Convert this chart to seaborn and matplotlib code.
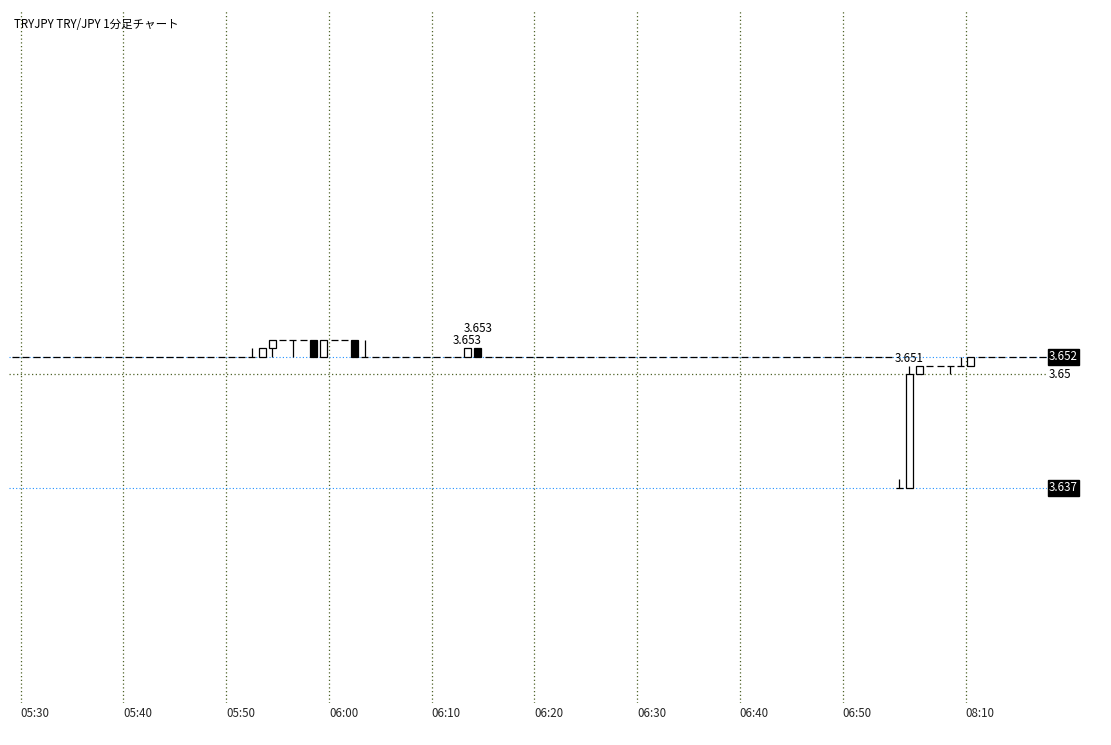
import numpy as np
import pandas as pd
import seaborn as sns
from matplotlib import pyplot as plt

# minute bars: 05:29-06:54 then 08:03-08:17 (no trades in between)
times = list(pd.date_range('05:29', '06:54', freq='1min').strftime('%H:%M')) + \
    list(pd.date_range('08:03', '08:17', freq='1min').strftime('%H:%M'))

opens = [
    3.652, 3.652, 3.652, 3.652, 3.652, 3.652, 3.652, 3.652, 3.652, 3.652,
    3.652, 3.652, 3.652, 3.652, 3.652, 3.652, 3.652, 3.652, 3.652, 3.652,
    3.652, 3.652, 3.652, 3.652, 3.652, 3.653, 3.654, 3.654, 3.654, 3.654,
    3.652, 3.654, 3.654, 3.654, 3.652, 3.652, 3.652, 3.652, 3.652, 3.652,
    3.652, 3.652, 3.652, 3.652, 3.652, 3.653, 3.652, 3.652, 3.652, 3.652,
    3.652, 3.652, 3.652, 3.652, 3.652, 3.652, 3.652, 3.652, 3.652, 3.652,
    3.652, 3.652, 3.652, 3.652, 3.652, 3.652, 3.652, 3.652, 3.652, 3.652,
    3.652, 3.652, 3.652, 3.652, 3.652, 3.652, 3.652, 3.652, 3.652, 3.652,
    3.652, 3.652, 3.652, 3.652, 3.652, 3.652, 3.637, 3.637, 3.650, 3.651,
    3.651, 3.651, 3.651, 3.651, 3.652, 3.652, 3.652, 3.652, 3.652, 3.652,
    3.652]
highs = [
    3.652, 3.652, 3.652, 3.652, 3.652, 3.652, 3.652, 3.652, 3.652, 3.652,
    3.652, 3.652, 3.652, 3.652, 3.652, 3.652, 3.652, 3.652, 3.652, 3.652,
    3.652, 3.652, 3.652, 3.653, 3.653, 3.654, 3.654, 3.654, 3.654, 3.654,
    3.654, 3.654, 3.654, 3.654, 3.654, 3.652, 3.652, 3.652, 3.652, 3.652,
    3.652, 3.652, 3.652, 3.652, 3.653, 3.653, 3.652, 3.652, 3.652, 3.652,
    3.652, 3.652, 3.652, 3.652, 3.652, 3.652, 3.652, 3.652, 3.652, 3.652,
    3.652, 3.652, 3.652, 3.652, 3.652, 3.652, 3.652, 3.652, 3.652, 3.652,
    3.652, 3.652, 3.652, 3.652, 3.652, 3.652, 3.652, 3.652, 3.652, 3.652,
    3.652, 3.652, 3.652, 3.652, 3.652, 3.652, 3.638, 3.651, 3.651, 3.651,
    3.651, 3.651, 3.652, 3.652, 3.652, 3.652, 3.652, 3.652, 3.652, 3.652,
    3.652]
lows = [
    3.652, 3.652, 3.652, 3.652, 3.652, 3.652, 3.652, 3.652, 3.652, 3.652,
    3.652, 3.652, 3.652, 3.652, 3.652, 3.652, 3.652, 3.652, 3.652, 3.652,
    3.652, 3.652, 3.652, 3.652, 3.652, 3.652, 3.654, 3.652, 3.654, 3.652,
    3.652, 3.654, 3.654, 3.652, 3.652, 3.652, 3.652, 3.652, 3.652, 3.652,
    3.652, 3.652, 3.652, 3.652, 3.652, 3.652, 3.652, 3.652, 3.652, 3.652,
    3.652, 3.652, 3.652, 3.652, 3.652, 3.652, 3.652, 3.652, 3.652, 3.652,
    3.652, 3.652, 3.652, 3.652, 3.652, 3.652, 3.652, 3.652, 3.652, 3.652,
    3.652, 3.652, 3.652, 3.652, 3.652, 3.652, 3.652, 3.652, 3.652, 3.652,
    3.652, 3.652, 3.652, 3.652, 3.652, 3.652, 3.637, 3.637, 3.650, 3.651,
    3.651, 3.650, 3.651, 3.651, 3.652, 3.652, 3.652, 3.652, 3.652, 3.652,
    3.652]
closes = [
    3.652, 3.652, 3.652, 3.652, 3.652, 3.652, 3.652, 3.652, 3.652, 3.652,
    3.652, 3.652, 3.652, 3.652, 3.652, 3.652, 3.652, 3.652, 3.652, 3.652,
    3.652, 3.652, 3.652, 3.652, 3.653, 3.654, 3.654, 3.654, 3.654, 3.652,
    3.654, 3.654, 3.654, 3.652, 3.652, 3.652, 3.652, 3.652, 3.652, 3.652,
    3.652, 3.652, 3.652, 3.652, 3.653, 3.652, 3.652, 3.652, 3.652, 3.652,
    3.652, 3.652, 3.652, 3.652, 3.652, 3.652, 3.652, 3.652, 3.652, 3.652,
    3.652, 3.652, 3.652, 3.652, 3.652, 3.652, 3.652, 3.652, 3.652, 3.652,
    3.652, 3.652, 3.652, 3.652, 3.652, 3.652, 3.652, 3.652, 3.652, 3.652,
    3.652, 3.652, 3.652, 3.652, 3.652, 3.652, 3.637, 3.650, 3.651, 3.651,
    3.651, 3.651, 3.651, 3.652, 3.652, 3.652, 3.652, 3.652, 3.652, 3.652,
    3.652]

# high labels drawn on the chart
label_times = ['06:13', '06:14', '08:04']
label_lift = [0, 8.6, 0]  # pt, second label stacked above the first

title = 'TRYJPY TRY/JPY 1分足チャート'
round_level = 3.65
last_price = closes[-1]
low_price = min(lows)

df = pd.DataFrame({'time': times, 'open': opens, 'high': highs, 'low': lows, 'close': closes})
df['slot'] = np.arange(len(df))
df['mid'] = df['slot'] + 0.5

sns.set_theme(style='white')
plt.rcParams['font.family'] = ['Noto Sans CJK JP', 'DejaVu Sans']

GRID = '#4f6328'
BLUE = '#1e90ff'
W = 0.68
LW = 0.9
FS = 8.3

fig = plt.figure(figsize=(11.11, 7.45), dpi=100)
ax = fig.add_axes([9 / 1111, 42 / 745, 1038 / 1111, 693 / 745])
ax.set_xlim(-0.14, 100.9)
ax.set_ylim(3.61238, 3.69173)
for s in ax.spines.values():
    s.set_visible(False)

# time ticks at every 10 minutes
tick_df = df[df['time'].str.endswith('0')]
ax.set_xticks(tick_df['slot'])
ax.set_xticklabels(tick_df['time'], ha='left', fontsize=FS)
ax.tick_params(axis='x', length=0, pad=3)
ax.set_yticks([])
ax.xaxis.grid(True, color=GRID, linestyle=(0, (1, 2)), linewidth=0.9)

ax.axhline(round_level, color=GRID, linestyle=(0, (1, 2)), linewidth=0.9, zorder=1)
ax.axhline(last_price, color=BLUE, linestyle=(0, (1, 2)), linewidth=0.8, zorder=1)
ax.axhline(low_price, color=BLUE, linestyle=(0, (1, 2)), linewidth=0.8, zorder=1)

# wicks
wk = df[df['high'] > df['low']]
ax.vlines(wk['mid'], wk['low'], wk['high'], color='black', linewidth=LW, zorder=2)

# flat bodies
flat = df[df['open'] == df['close']]
ax.hlines(flat['open'], flat['mid'] - W / 2, flat['mid'] + W / 2, color='black', linewidth=LW, zorder=3)

# up / down bodies
up = df[df['close'] > df['open']]
ax.bar(up['mid'], up['close'] - up['open'], bottom=up['open'], width=W,
       facecolor='white', edgecolor='black', linewidth=LW, zorder=3)
dn = df[df['close'] < df['open']]
ax.bar(dn['mid'], dn['open'] - dn['close'], bottom=dn['close'], width=W,
       facecolor='black', edgecolor='black', linewidth=LW, zorder=3)

for t, lift in zip(label_times, label_lift):
    row = df[df['time'] == t].iloc[0]
    ax.annotate(f"{row['high']:.3f}", (row['mid'], row['high']), xytext=(0, 0.7 + lift),
                textcoords='offset points', ha='center', va='bottom', fontsize=FS, color='black')

ytr = ax.get_yaxis_transform()
ax.text(1.002, last_price, f'{last_price:.3f}', transform=ytr, ha='left', va='center',
        fontsize=FS, color='white', bbox=dict(boxstyle='square,pad=0.12', fc='black', ec='black'))
ax.text(1.002, low_price, f'{low_price:.3f}', transform=ytr, ha='left', va='center',
        fontsize=FS, color='white', bbox=dict(boxstyle='square,pad=0.12', fc='black', ec='black'))
ax.text(1.002, round_level, f'{round_level:.2f}', transform=ytr, ha='left', va='center',
        fontsize=FS, color='black')

fig.text(14 / 1111, 1 - 24 / 745, title, ha='left', va='center', fontsize=FS, color='black')

fig.savefig('out.png', dpi=100)
